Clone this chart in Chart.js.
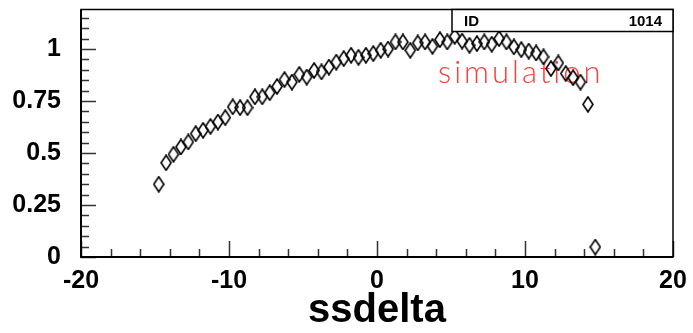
<!DOCTYPE html>
<html>
<head>
<meta charset="utf-8">
<script src="https://cdn.jsdelivr.net/npm/chart.js@4"></script>
<style>
html, body { margin: 0; padding: 0; background: #fff; }
</style>
</head>
<body>
<canvas id="effChart" width="693" height="333"></canvas>
<script>
// bin centres (ssdelta) and measured ratio per bin
const ssdelta = [
  -14.75, -14.25, -13.75, -13.25, -12.75, -12.25, -11.75, -11.25, -10.75, -10.25,
  -9.75, -9.25, -8.75, -8.25, -7.75, -7.25, -6.75, -6.25, -5.75, -5.25,
  -4.75, -4.25, -3.75, -3.25, -2.75, -2.25, -1.75, -1.25, -0.75, -0.25,
  0.25, 0.75, 1.25, 1.75, 2.25, 2.75, 3.25, 3.75, 4.25, 4.75,
  5.25, 5.75, 6.25, 6.75, 7.25, 7.75, 8.25, 8.75, 9.25, 9.75,
  10.25, 10.75, 11.25, 11.75, 12.25, 12.75, 13.25, 13.75, 14.25, 14.75
];
const ratio = [
  0.35, 0.453, 0.494, 0.529, 0.553, 0.593, 0.609, 0.628, 0.649, 0.67,
  0.722, 0.718, 0.718, 0.77, 0.77, 0.79, 0.82, 0.853, 0.841, 0.878,
  0.865, 0.897, 0.89, 0.913, 0.937, 0.954, 0.97, 0.96, 0.97, 0.978,
  0.994, 1.0, 1.034, 1.034, 0.994, 1.029, 1.034, 1.013, 1.045, 1.034,
  1.061, 1.038, 1.018, 1.026, 1.034, 1.023, 1.05, 1.034, 1.01, 0.997,
  0.99, 0.981, 0.962, 0.906, 0.933, 0.882, 0.862, 0.841, 0.734, 0.048
];
const yTickLabels = ["0", "0.25", "0.5", "0.75", "1"];
const histId = "1014";
const note = "simulation";

const FONT = "'Liberation Sans', Arial, Helvetica, sans-serif";

// open diamond like ROOT marker 27
function diamond() {
  const c = document.createElement("canvas");
  c.width = 12;
  c.height = 17;
  const g = c.getContext("2d");
  g.strokeStyle = "#000";
  g.lineWidth = 1.6;
  g.beginPath();
  g.moveTo(6, 1);
  g.lineTo(11, 8.5);
  g.lineTo(6, 16);
  g.lineTo(1, 8.5);
  g.closePath();
  g.stroke();
  return c;
}

const rootFrame = {
  id: "rootFrame",
  beforeDatasetsDraw(chart) {
    const { ctx, scales: { x, y } } = chart;
    ctx.save();
    ctx.fillStyle = "#ff3c3c";
    ctx.font = "300 31px Lato, " + FONT;
    ctx.letterSpacing = "3px";
    ctx.textBaseline = "alphabetic";
    ctx.fillText(note, x.getPixelForValue(4.12), y.getPixelForValue(0.835));
    ctx.restore();
  },
  afterDraw(chart) {
    const { ctx, chartArea: a, scales: { x, y } } = chart;
    ctx.save();
    // ticks (inside)
    ctx.strokeStyle = "#333";
    ctx.lineWidth = 1.5;
    ctx.beginPath();
    for (let i = 0; i <= 20; i++) {
      const v = -20 + i * 2;
      const px = Math.round(x.getPixelForValue(v)) + 0.5;
      const len = i % 5 === 0 ? 16 : 8;
      ctx.moveTo(px, a.bottom);
      ctx.lineTo(px, a.bottom - len);
    }
    for (let i = 0; i * 0.05 <= y.max + 1e-9; i++) {
      const py = Math.round(y.getPixelForValue(i * 0.05)) + 0.5;
      const len = i % 5 === 0 ? 15 : 8;
      ctx.moveTo(a.left, py);
      ctx.lineTo(a.left + len, py);
    }
    ctx.stroke();
    // frame
    ctx.strokeStyle = "#000";
    ctx.lineWidth = 1.5;
    ctx.strokeRect(a.left, a.top, a.right - a.left, a.bottom - a.top);
    ctx.lineWidth = 2;
    ctx.beginPath();
    ctx.moveTo(a.left, a.top);
    ctx.lineTo(a.left, a.bottom);
    ctx.lineTo(a.right, a.bottom);
    ctx.stroke();
    // stats box
    const bx = a.right - 221, by = a.top, bw = 221, bh = 22;
    ctx.fillStyle = "#fff";
    ctx.fillRect(bx, by, bw, bh);
    ctx.lineWidth = 1.5;
    ctx.strokeRect(bx, by, bw, bh);
    ctx.fillStyle = "#000";
    ctx.font = "bold 15px " + FONT;
    ctx.textBaseline = "middle";
    ctx.textAlign = "left";
    ctx.fillText("ID", bx + 12, by + bh / 2 + 1);
    ctx.textAlign = "right";
    ctx.fillText(histId, bx + bw - 11, by + bh / 2 + 1);
    ctx.restore();
  }
};

new Chart(document.getElementById("effChart"), {
  type: "scatter",
  data: {
    datasets: [{
      data: ssdelta.map((v, i) => ({ x: v, y: ratio[i] })),
      pointStyle: diamond(),
      pointRadius: 6,
      showLine: false
    }]
  },
  options: {
    responsive: false,
    animation: false,
    layout: { padding: { left: 0, right: 20, top: 9.5, bottom: 0 } },
    plugins: { legend: { display: false }, tooltip: { enabled: false } },
    scales: {
      x: {
        type: "linear",
        min: -20,
        max: 20,
        grid: { display: false, drawTicks: false },
        border: { display: false },
        ticks: {
          stepSize: 10,
          padding: 9,
          color: "#000",
          font: { family: FONT, size: 25, weight: "bold" }
        },
        title: {
          display: true,
          text: "ssdelta",
          color: "#000",
          padding: { top: 0, bottom: 0 },
          font: { family: FONT, size: 40, weight: "bold", lineHeight: 1.1 }
        },
        afterFit: s => {
          s.height = 76;
          s.paddingLeft = 0;
          s.paddingRight = 0;
        }
      },
      y: {
        min: 0,
        max: 1.19,
        grid: { display: false, drawTicks: false },
        border: { display: false },
        ticks: {
          stepSize: 0.25,
          includeBounds: false,
          padding: 20,
          color: "#000",
          font: { family: FONT, size: 25, weight: "bold" },
          callback: (v, i) => yTickLabels[i]
        },
        afterFit: s => {
          s.width = 81;
          s.paddingTop = 0;
          s.paddingBottom = 0;
        }
      }
    }
  },
  plugins: [rootFrame]
});
</script>
</body>
</html>
